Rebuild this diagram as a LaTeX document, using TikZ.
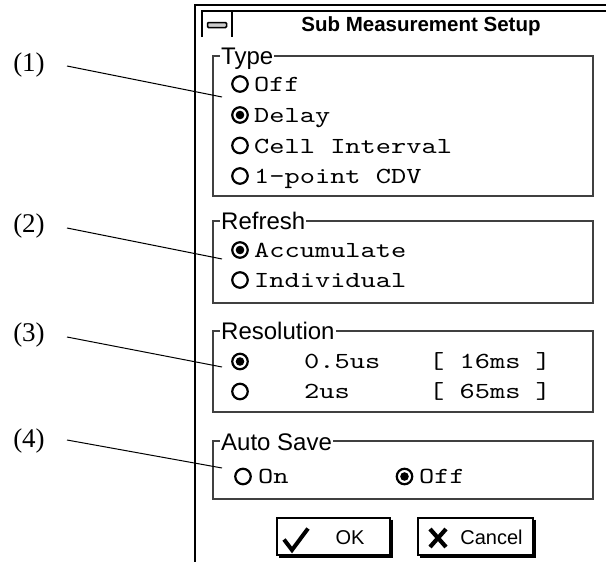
\documentclass[tikz,border=0pt]{standalone}
\usepackage{fontspec}
\usetikzlibrary{calc}
\newfontfamily\uisans{Liberation Sans}
\newfontfamily\calloutfont{Liberation Serif}
\newfontfamily\uimono{lmmono10-regular}[Extension=.otf,FakeStretch=1.26]
\begin{document}
\begin{tikzpicture}[x=1pt,y=-1pt,
  window/.style={draw=black,line width=1.4pt},
  groupframe/.style={draw=black!75,line width=1.5pt},
  grouplabel/.style={anchor=base west,fill=white,inner sep=1pt,
    font=\uisans\fontsize{24}{24}\selectfont},
  item/.style={anchor=base west,inner sep=0pt,
    font=\uimono\fontsize{23}{23}\selectfont},
  radio/.style={circle,draw=black,line width=2.2pt,minimum size=15.5pt,inner sep=0pt},
  radioon/.style={radio,path picture={\fill[black] (path picture bounding box.center) circle (4.3pt);}},
  button/.style={draw=black,line width=2.5pt,outer sep=0pt,minimum width=113pt,minimum height=37pt,inner sep=0pt},
  btntext/.style={font=\uisans\fontsize{20}{20}\selectfont,inner sep=0pt},
  callout/.style={font=\calloutfont\fontsize{27}{27}\selectfont,inner sep=0pt},
  leader/.style={draw=black,line width=1pt}]
\useasboundingbox (0,0) rectangle (606,562);

% window frame and title bar
\draw[window] (195,562) -- (195,5) -- (606,5);
\draw[window] (202,37) -- (202,11) -- (606,11);
\draw[window] (232,11) -- (232,37);
\node[draw=black,line width=1.5pt,fill=black!20,rounded corners=1pt,
      minimum width=19pt,minimum height=5pt,inner sep=0pt] (menu) at (217,25) {};
\node[anchor=base,inner sep=0pt,font=\uisans\bfseries\fontsize{20.5}{20.5}\selectfont]
  (title) at (421,31.5) {Sub Measurement Setup};

% group: Type
\draw[groupframe] (213,56) rectangle (593,196);
\node[grouplabel] (gtype) at (220,64.5) {Type};
\node[radio]   (r1) at (240,84)  {};
\node[item]    (t1) at (254,91.5) {Off};
\node[radioon] (r2) at (240,115) {};
\node[item]    (t2) at (254,122.3) {Delay};
\node[radio]   (r3) at (240,145.5) {};
\node[item]    (t3) at (254,153) {Cell Interval};
\node[radio]   (r4) at (240,176) {};
\node[item]    (t4) at (254,183.5) {1-point CDV};

% group: Refresh
\draw[groupframe] (213,221) rectangle (593,303);
\node[grouplabel] (grefresh) at (220,229.5) {Refresh};
\node[radioon] (r5) at (240,250) {};
\node[item]    (t5) at (254,257.5) {Accumulate};
\node[radio]   (r6) at (240,280) {};
\node[item]    (t6) at (254,287.5) {Individual};

% group: Resolution
\draw[groupframe] (213,331) rectangle (593,412);
\node[grouplabel] (gres) at (220,339.5) {Resolution};
\node[radioon] (r7) at (240,361.5) {};
\node[item]    (t7a) at (304,368.5) {0.5us};
\node[item]    (t7b) at (429,368.5) {[ 16ms ]};
\node[radio]   (r8) at (240,391.5) {};
\node[item]    (t8a) at (304,398.5) {2us};
\node[item]    (t8b) at (429,398.5) {[ 65ms ]};

% group: Auto Save
\draw[groupframe] (213,441) rectangle (593,499);
\node[grouplabel] (gsave) at (220,450) {Auto Save};
\node[radio]   (r9) at (243,476.5) {};
\node[item]    (t9) at (258,483.5) {On};
\node[radioon] (r10) at (404.5,476.5) {};
\node[item]    (t10) at (419,483.5) {Off};

% buttons
\node[button] (ok) at (333.5,536.5) {};
\draw[line width=2pt] ($(ok.north east)+(1.5,1.5)$) -- ($(ok.south east)+(1.5,1.5)$) -- ($(ok.south west)+(1.5,1.5)$);
\draw[line width=4pt,line join=miter] (284,539.5) -- (292,550) -- (308,528.5);
\node[btntext] (oklbl) at (350,537.5) {OK};

\node[button,minimum width=115pt] (cancel) at (475.5,536.5) {};
\draw[line width=2pt] ($(cancel.north east)+(1.5,1.5)$) -- ($(cancel.south east)+(1.5,1.5)$) -- ($(cancel.south west)+(1.5,1.5)$);
\draw[line width=4.2pt] (430,529) -- (446,547) (446,529) -- (430,547);
\node[btntext] (cancellbl) at (491.5,537.5) {Cancel};

% callouts
\node[callout] (c1) at (29,65.5) {(1)};
\node[callout] (c2) at (29,226) {(2)};
\node[callout] (c3) at (29,335) {(3)};
\node[callout] (c4) at (29,441) {(4)};
\coordinate (c1s) at (67,66);   \coordinate (c1e) at (222,97);
\coordinate (c2s) at (67,228);  \coordinate (c2e) at (222,259);
\coordinate (c3s) at (67,337);  \coordinate (c3e) at (222,367);
\coordinate (c4s) at (67,440);  \coordinate (c4e) at (222,468);
\draw[leader] (c1s) -- (c1e);
\draw[leader] (c2s) -- (c2e);
\draw[leader] (c3s) -- (c3e);
\draw[leader] (c4s) -- (c4e);
\end{tikzpicture}
\end{document}
